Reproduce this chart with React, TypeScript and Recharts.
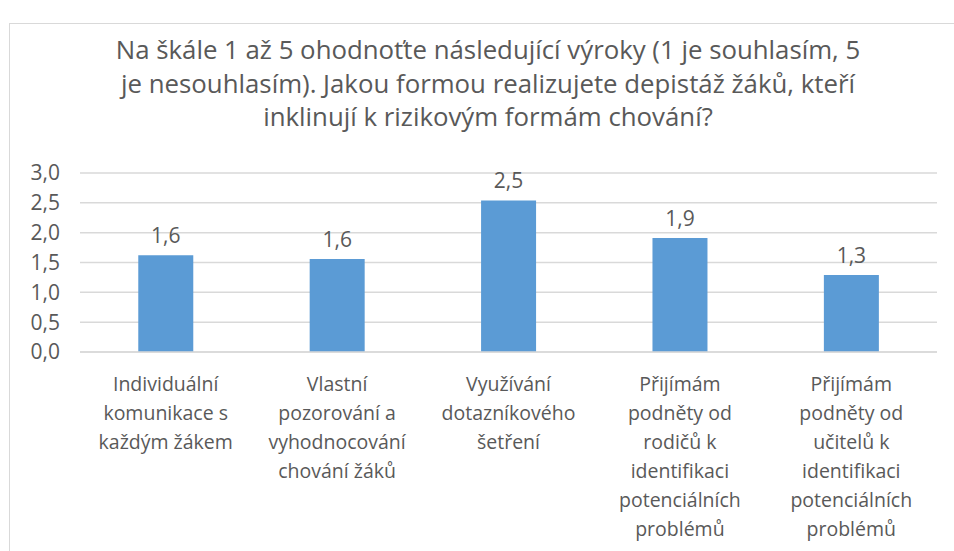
import { BarChart, Bar, XAxis, YAxis, CartesianGrid, LabelList } from "recharts"

const categories = [
  "Individuální\nkomunikace s\nkaždým žákem",
  "Vlastní\npozorování a\nvyhodnocování\nchování žáků",
  "Využívání\ndotazníkového\nšetření",
  "Přijímám\npodněty od\nrodičů k\nidentifikaci\npotenciálních\nproblémů",
  "Přijímám\npodněty od\nučitelů k\nidentifikaci\npotenciálních\nproblémů",
]
const values = [1.62, 1.56, 2.54, 1.91, 1.29]
const yTicks = [0, 0.5, 1, 1.5, 2, 2.5, 3]
const titleLines = [
  "Na škále 1 až 5 ohodnoťte následující výroky (1 je souhlasím, 5",
  "je nesouhlasím). Jakou formou realizujete depistáž žáků, kteří",
  "inklinují k rizikovým formám chování?",
]

const FONT = "'Open Sans', 'Liberation Sans', sans-serif"
const TEXT = "#595959"
const fmt = (v: number) => v.toFixed(1).replace(".", ",")

const data = categories.map((name, i) => ({ name, value: values[i] }))

function WrappedTick(props: any) {
  const { x, y, payload } = props
  const lines = String(payload.value).split("\n")
  return (
    <text x={x} y={y} textAnchor="middle" fill={TEXT} fontSize={19.5} fontFamily={FONT}>
      {lines.map((l, i) => (
        <tspan key={i} x={x} dy={i === 0 ? 31 : 29}>
          {l}
        </tspan>
      ))}
    </text>
  )
}

export default function App() {
  return (
    <div
      style={{
        position: "absolute",
        left: 0,
        top: 0,
        width: 954,
        height: 551,
        overflow: "hidden",
        background: "#fff",
      }}
    >
      <div
        style={{
          position: "absolute",
          left: 9,
          top: 23,
          width: 958,
          height: 560,
          border: "1.5px solid #D9D9D9",
          boxSizing: "border-box",
        }}
      />
      <div
        style={{
          position: "absolute",
          left: 9,
          top: 33,
          width: 958,
          textAlign: "center",
          fontFamily: FONT,
          fontSize: 25.8,
          lineHeight: "33.5px",
          color: TEXT,
          whiteSpace: "nowrap",
        }}
      >
        {titleLines.map((l, i) => (
          <div key={i}>{l}</div>
        ))}
      </div>
      <div style={{ position: "absolute", left: 0, top: 0 }}>
        <BarChart
          width={954}
          height={551}
          data={data}
          margin={{ top: 173, right: 17, bottom: 9, left: 0 }}
          barCategoryGap="34%"
        >
          <CartesianGrid vertical={false} stroke="#D9D9D9" strokeWidth={1.5} />
          <XAxis
            dataKey="name"
            interval={0}
            height={190}
            tickLine={false}
            axisLine={{ stroke: "#D9D9D9", strokeWidth: 1.5 }}
            tick={<WrappedTick />}
          />
          <YAxis
            width={80}
            domain={[0, 3]}
            ticks={yTicks}
            interval={0}
            tickFormatter={fmt}
            tickLine={false}
            axisLine={false}
            tickSize={10}
            tickMargin={10}
            tick={{ fill: TEXT, fontSize: 21, fontFamily: FONT }}
          />
          <Bar dataKey="value" fill="#5B9BD5" isAnimationActive={false}>
            <LabelList
              dataKey="value"
              position="top"
              offset={12}
              formatter={(v: any) => fmt(Number(v))}
              fill={TEXT}
              fontSize={21}
              fontFamily={FONT}
            />
          </Bar>
        </BarChart>
      </div>
    </div>
  )
}
